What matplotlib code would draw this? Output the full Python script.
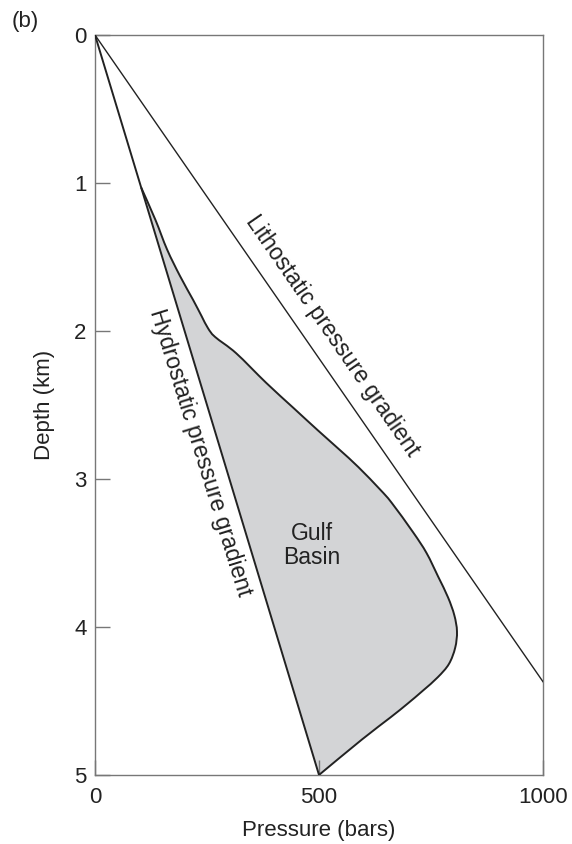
import matplotlib
matplotlib.use("Agg")
import matplotlib.pyplot as plt
import numpy as np
from matplotlib.path import Path
from matplotlib.patches import PathPatch

plt.rcParams['font.family'] = ['Liberation Sans', 'DejaVu Sans']

# Pressure gradients (pressure in bars, depth in km)
litho_pressure = [0, 1000]
litho_depth = [0, 4.37]
hydro_pressure = [0, 500]
hydro_depth = [0, 5]

# Gulf Basin overpressure envelope (right-hand boundary, top to bottom)
gulf_pressure = [103, 135, 161, 190, 219, 238, 252, 268, 315, 382, 443, 497,
                 545, 588, 636, 662, 710, 740, 766, 788, 802, 808, 804, 790,
                 765, 732, 697, 660, 596, 500]
gulf_depth = [1.03, 1.25, 1.45, 1.63, 1.79, 1.90, 1.98, 2.04, 2.15, 2.35, 2.52,
              2.67, 2.80, 2.92, 3.07, 3.16, 3.36, 3.50, 3.66, 3.80, 3.92, 4.03,
              4.14, 4.25, 4.34, 4.43, 4.52, 4.61, 4.76, 5.00]

x_ticks = [0, 500, 1000]
y_ticks = [0, 1, 2, 3, 4, 5]


def smooth_path(xs, ys, aspect):
    """Cubic Bezier path through every (x, y) point (Catmull-Rom tangents).

    Tangents are computed with depth scaled by `aspect` so both axes are
    in comparable units on screen.
    """
    pts = np.column_stack([np.asarray(xs, float), np.asarray(ys, float) * aspect])
    verts = [pts[0]]
    codes = [Path.MOVETO]
    n = len(pts)
    for i in range(n - 1):
        p0 = pts[i - 1] if i > 0 else pts[i]
        p1 = pts[i]
        p2 = pts[i + 1]
        p3 = pts[i + 2] if i + 2 < n else pts[i + 1]
        verts += [p1 + (p2 - p0) / 6.0, p2 - (p3 - p1) / 6.0, p2]
        codes += [Path.CURVE4] * 3
    verts = np.array(verts)
    verts[:, 1] /= aspect
    return verts, codes


fig = plt.figure(figsize=(5.72, 8.44), dpi=100)
ax = fig.add_axes([0.1661, 0.0818, 0.7832, 0.8767])

ink = '#222222'

verts, codes = smooth_path(gulf_pressure, gulf_depth, aspect=330.0)

# Shaded region: curved boundary, closed back along the hydrostatic line
fill_verts = np.vstack([verts, [[gulf_pressure[0], gulf_depth[0]]],
                        [[gulf_pressure[0], gulf_depth[0]]]])
fill_codes = codes + [Path.LINETO, Path.CLOSEPOLY]
ax.add_patch(PathPatch(Path(fill_verts, fill_codes), facecolor='#d3d4d6',
                       edgecolor='none', zorder=1))
ax.add_patch(PathPatch(Path(verts, codes), facecolor='none', edgecolor=ink,
                       lw=1.4, zorder=3, joinstyle='round'))

ax.plot(hydro_pressure, hydro_depth, color=ink, lw=1.4, zorder=3)
ax.plot(litho_pressure, litho_depth, color=ink, lw=1.0, zorder=3)

ax.set_xlim(0, 1000)
ax.set_ylim(5, 0)
ax.set_xticks(x_ticks)
ax.set_yticks(y_ticks)
ax.set_xticklabels([str(v) for v in x_ticks])
ax.set_yticklabels([str(v) for v in y_ticks])

for s in ax.spines.values():
    s.set_color('#777777')
    s.set_linewidth(1.0)
ax.tick_params(axis='both', direction='in', length=11, width=1.0,
               color='#777777', labelsize=16, labelcolor=ink)
ax.tick_params(axis='y', pad=6)
ax.tick_params(axis='x', pad=9)

ax.set_xlabel('Pressure (bars)', fontsize=16, color=ink, labelpad=8)
ax.set_ylabel('Depth (km)', fontsize=16, color=ink, labelpad=14)

# Labels along the gradients
ax.text(531, 2.03, 'Lithostatic pressure gradient', rotation=-55.3,
        rotation_mode='anchor', ha='center', va='center', fontsize=16.5,
        color=ink)
ax.text(234, 2.82, 'Hydrostatic pressure gradient', rotation=-72.8,
        rotation_mode='anchor', ha='center', va='center', fontsize=16.5,
        color=ink)
ax.text(484, 3.45, 'Gulf\nBasin', ha='center', va='center', fontsize=16.5,
        color=ink, linespacing=1.05)

fig.text(25 / 572, 1 - 21 / 844, '(b)', ha='center', va='center',
         fontsize=16, color=ink)

fig.savefig('out.png', dpi=100, facecolor='white')
